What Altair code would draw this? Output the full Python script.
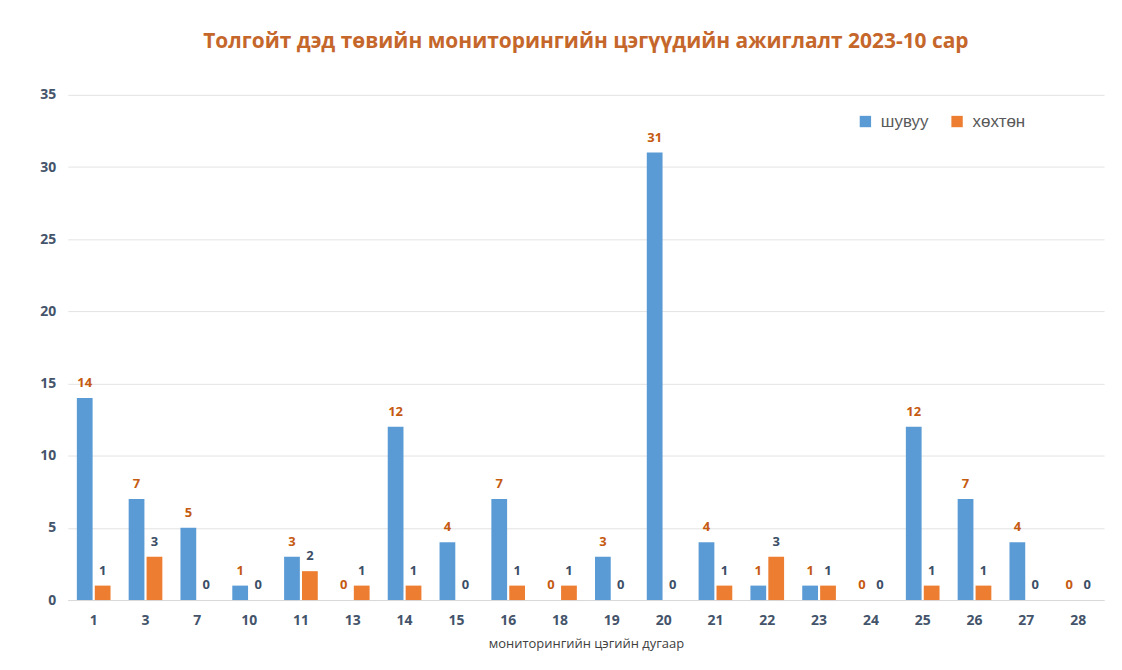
import altair as alt
import pandas as pd

categories = ["1", "3", "7", "10", "11", "13", "14", "15", "16", "18",
              "19", "20", "21", "22", "23", "24", "25", "26", "27", "28"]
birds = [14, 7, 5, 1, 3, 0, 12, 4, 7, 0, 3, 31, 4, 1, 1, 0, 12, 7, 4, 0]
mammals = [1, 3, 0, 0, 2, 1, 1, 0, 1, 1, 0, 0, 1, 3, 1, 0, 1, 1, 0, 0]
series_names = ["шувуу", "хөхтөн"]
series_colors = ["#5B9BD5", "#ED7D31"]
label_colors = ["#C55A11", "#3B4E66"]

rows = []
for c, b, m in zip(categories, birds, mammals):
    rows.append({"cat": c, "series": series_names[0], "value": b})
    rows.append({"cat": c, "series": series_names[1], "value": m})
df = pd.DataFrame(rows)

FONT = "Open Sans"
x_enc = alt.X("cat:N", sort=categories,
              scale=alt.Scale(paddingInner=0.35, paddingOuter=0.175),
              axis=alt.Axis(title="мониторингийн цэгийн дугаар", labelAngle=0,
                            labelFont=FONT, labelFontWeight="bold", labelFontSize=14,
                            labelColor="#44546A", labelPadding=14, ticks=False,
                            domainColor="#D9D9D9", titleFont=FONT, titleFontSize=13,
                            titleFontWeight="normal", titleColor="#404040",
                            titlePadding=10))
y_enc = alt.Y("value:Q", scale=alt.Scale(domain=[0, 35]),
              axis=alt.Axis(title=None, values=[0, 5, 10, 15, 20, 25, 30, 35],
                            labelFont=FONT, labelFontWeight="bold", labelFontSize=14,
                            labelColor="#44546A", labelPadding=12, ticks=False,
                            domain=False, gridColor="#E3E3E3"))
off_enc = alt.XOffset("series:N", sort=series_names,
                      scale=alt.Scale(domain=series_names, paddingInner=0.12))

base = alt.Chart(df)

bars = base.mark_bar().encode(
    x=x_enc, y=y_enc, xOffset=off_enc,
    color=alt.Color("series:N", sort=series_names,
                    scale=alt.Scale(domain=series_names, range=series_colors),
                    legend=alt.Legend(title=None, orient="none", legendX=792, legendY=18,
                                      direction="horizontal", symbolType="square",
                                      symbolSize=130, labelFont="Liberation Sans",
                                      labelFontSize=17, labelColor="#595959",
                                      columnPadding=20, labelOffset=7)),
)

texts = []
for name, col in zip(series_names, label_colors):
    texts.append(
        base.transform_filter(alt.datum.series == name).mark_text(
            dy=-8, baseline="bottom", font=FONT, fontWeight="bold", fontSize=13, color=col
        ).encode(x=alt.X("cat:N", sort=categories), y="value:Q", xOffset=off_enc,
                 text="value:Q")
    )

chart = alt.layer(bars, *texts).properties(
    width=1040, height=507,
    autosize=alt.AutoSizeParams(type="none"),
    padding={"left": 60, "top": 86, "right": 10, "bottom": 60},
    title=alt.TitleParams("Толгойт дэд төвийн мониторингийн цэгүүдийн ажиглалт 2023-10 сар",
                          font=FONT, fontSize=21, fontWeight="bold", color="#C5662B",
                          anchor="middle", offset=36),
).configure_view(stroke=None)

chart.save("out.html", embed_options={"renderer": "svg", "actions": False})
